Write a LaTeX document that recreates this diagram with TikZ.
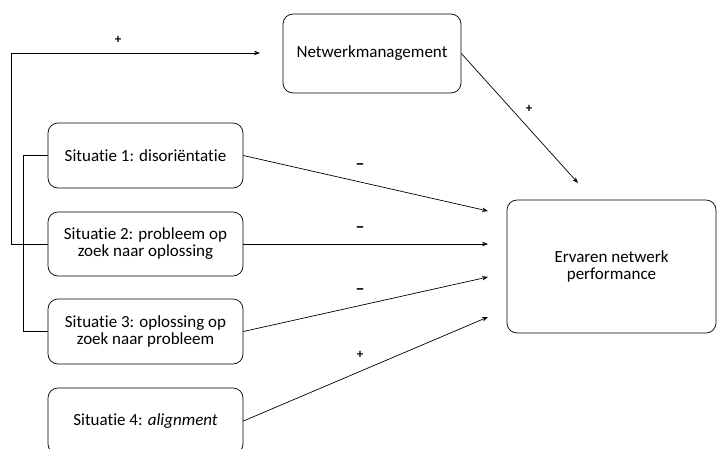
\documentclass[tikz,border=0pt]{standalone}
\usepackage{fontspec}
\setmainfont{Carlito}[Ligatures=NoCommon]
\usetikzlibrary{arrows.meta}
\begin{document}
\begin{tikzpicture}[x=1pt,y=-1pt,
  box/.style={draw, rounded corners=10pt, line width=0.7pt, align=center, inner sep=2pt, font=\fontsize{17}{17}\selectfont},
  conn/.style={line width=0.7pt, -{Stealth[length=6pt,width=4.5pt]}},
  plain/.style={line width=0.7pt},
  sign/.style={font=\fontsize{13}{13}\selectfont\bfseries},
  msign/.style={font=\fontsize{18}{18}\selectfont\bfseries}]
\clip (0,0) rectangle (717,448);
\fill[white] (0,0) rectangle (717,448);
\node[box, minimum width=178pt, minimum height=79pt] (nm) at (372,53.5) {Netwerkmanagement};
\node[box, minimum width=195pt, minimum height=65pt] (s1) at (145.5,155.5) {Situatie 1: disoriëntatie};
\node[box, minimum width=195pt, minimum height=64pt] (s2) at (145.5,244) {Situatie 2: probleem op\\zoek naar oplossing};
\node[box, minimum width=195pt, minimum height=65pt] (s3) at (145.5,331.5) {Situatie 3: oplossing op\\zoek naar probleem};
\node[box, minimum width=195pt, minimum height=66pt] (s4) at (145.5,421) {Situatie 4: \textit{alignment}};
\node[box, minimum width=209pt, minimum height=133pt] (ep) at (611.5,266.5) {Ervaren netwerk\\performance};
\coordinate (tnm) at (578,183);
\coordinate (t1) at (488,211);
\coordinate (t2) at (488,244);
\coordinate (t3) at (488,277);
\coordinate (t4) at (488,317);
\coordinate (ttop) at (260,53);
\draw[conn] (nm.east) -- (tnm);
\draw[conn] (s1.east) -- (t1);
\draw[conn] (s2.east) -- (t2);
\draw[conn] (s3.east) -- (t3);
\draw[conn] (s4.east) -- (t4);
\draw[plain] (s1.west) -- ++(-24,0) |- (s3.west);
\draw[conn] (s2.west) -- ++(-36,0) |- (ttop);
\node[sign] (p0) at (118,40) {+};
\node[sign] (p1) at (529,109) {+};
\node[msign] (m1) at (360,167) {–};
\node[msign] (m2) at (360,230) {–};
\node[msign] (m3) at (360,292) {–};
\node[sign] (p4) at (360,355) {+};
\end{tikzpicture}
\end{document}
